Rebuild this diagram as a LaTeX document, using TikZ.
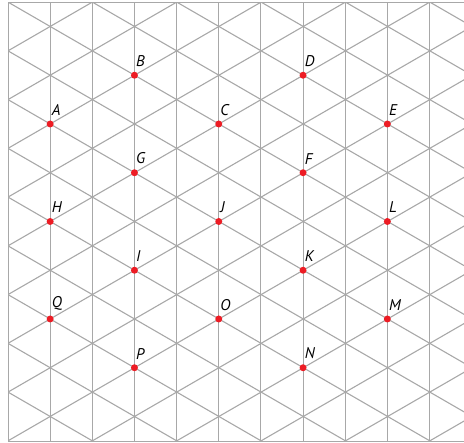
\documentclass[tikz,border=0pt]{standalone}
\usepackage{fontspec}
\setmainfont{PT Sans}
\begin{document}
\begin{tikzpicture}[x=1pt,y=-1pt,
  gridline/.style={draw={rgb,255:red,168;green,168;blue,168},line width=1.1pt},
  ptdot/.style={circle,fill={rgb,255:red,237;green,28;blue,36},inner sep=0pt,minimum size=7pt},
  ptlabel/.style={anchor=south west,inner sep=0pt,font=\fontsize{15.5}{16}\selectfont\itshape}]
\useasboundingbox (0,0) rectangle (464,443);
\def\s{42.15}
\def\h{48.75}
\begin{scope}
\clip (8,2.3) rectangle (464,441.2);
\foreach \k in {0,...,10} {
  \draw[gridline] ({8+\k*\s},0) -- ({8+\k*\s},443);
}
\foreach \m in {-7,...,16} {
  \draw[gridline] (8,{2.1+\m*\h}) -- (472,{2.1+\m*\h+11*\h/2});
  \draw[gridline] (8,{2.1+\m*\h}) -- (472,{2.1+\m*\h-11*\h/2});
}
\end{scope}
\draw[gridline] (8,2.3) -- (464,2.3);
\draw[gridline] (8,441.2) -- (464,441.2);
\foreach \name/\c/\n in {A/1/0,B/3/-1,C/5/0,D/7/-1,E/9/0,G/3/1,F/7/1,H/1/2,J/5/2,L/9/2,I/3/3,K/7/3,Q/1/4,O/5/4,M/9/4,P/3/5,N/7/5} {
  \node[ptdot] (\name) at ({8+\c*\s},{124+\n*\h}) {};
  \node[ptlabel] (lab\name) at ([xshift=1.5pt,yshift=8.5pt]\name.center) {\name};
}
\end{tikzpicture}
\end{document}
